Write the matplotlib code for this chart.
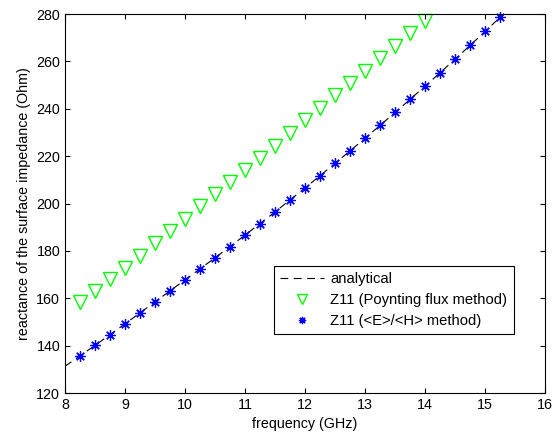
import numpy as np
import matplotlib.pyplot as plt

plt.rcParams['font.family'] = ['Liberation Sans', 'DejaVu Sans']

# frequency (GHz)
f_poynting = [8.25, 8.5, 8.75, 9.0, 9.25, 9.5, 9.75, 10.0, 10.25, 10.5, 10.75, 11.0,
              11.25, 11.5, 11.75, 12.0, 12.25, 12.5, 12.75, 13.0, 13.25, 13.5, 13.75, 14.0]
x_poynting = [158.5, 163.2, 168.0, 173.0, 178.0, 183.2, 188.3, 193.6, 198.8, 204.0, 209.0, 214.0,
              219.2, 224.5, 229.8, 235.2, 240.3, 245.7, 250.9, 256.1, 261.4, 266.6, 271.9, 277.3]

f_eh = [8.25, 8.5, 8.75, 9.0, 9.25, 9.5, 9.75, 10.0, 10.25, 10.5, 10.75, 11.0, 11.25, 11.5,
        11.75, 12.0, 12.25, 12.5, 12.75, 13.0, 13.25, 13.5, 13.75, 14.0, 14.25, 14.5, 14.75,
        15.0, 15.25]
x_eh = [135.7, 140.1, 144.6, 149.2, 153.8, 158.5, 163.1, 167.8, 172.4, 177.1, 181.8, 186.7,
        191.5, 196.5, 201.5, 206.6, 211.7, 217.0, 222.2, 227.6, 233.0, 238.5, 244.0, 249.6,
        255.3, 261.0, 266.8, 272.7, 278.7]

f_an = [8.0, 8.5, 9.0, 9.5, 10.0, 10.5, 11.0, 11.5, 12.0, 12.5, 13.0, 13.5, 14.0, 14.5, 15.0, 15.3]
x_an = [131.3, 140.1, 149.2, 158.5, 167.8, 177.1, 186.7, 196.5, 206.6, 217.0, 227.6, 238.5,
        249.6, 261.0, 272.7, 279.9]

fig = plt.figure(figsize=(5.59, 4.36), dpi=100)
ax = fig.add_axes([0.1163, 0.0986, 0.859, 0.869])

ax.plot(f_an, x_an, 'k--', lw=0.8, dashes=(7, 5), label='analytical')
ax.plot(f_poynting, x_poynting, 'v', mfc='none', mec='#00ff00', ms=9.5, mew=1.0,
        ls='none', clip_on=False, label='Z11 (Poynting flux method)')
ax.plot(f_eh, x_eh, marker=(8, 2, 0), color='#0000ff', ms=7.5, mew=0.9,
        ls='none', clip_on=False, label='Z11 (<E>/<H> method)')

ax.set_xlim(8, 16)
ax.set_ylim(120, 280)
ax.set_xticks(np.arange(8, 17, 1))
ax.set_yticks(np.arange(120, 281, 20))
ax.tick_params(direction='in', top=True, right=True, labelsize=10.3)
ax.set_xlabel('frequency (GHz)', fontsize=10.3)
ax.set_ylabel('reactance of the surface impedance (Ohm)', fontsize=10.3)

leg = ax.legend(loc='lower right', bbox_to_anchor=(0.935, 0.155), fontsize=10.6,
                fancybox=False, edgecolor='black', framealpha=1, borderaxespad=0,
                handlelength=3.0, handletextpad=0.4, markerscale=0.7,
                borderpad=0.45, labelspacing=0.45)
leg.get_frame().set_linewidth(0.8)

fig.savefig('out.png', dpi=100)
